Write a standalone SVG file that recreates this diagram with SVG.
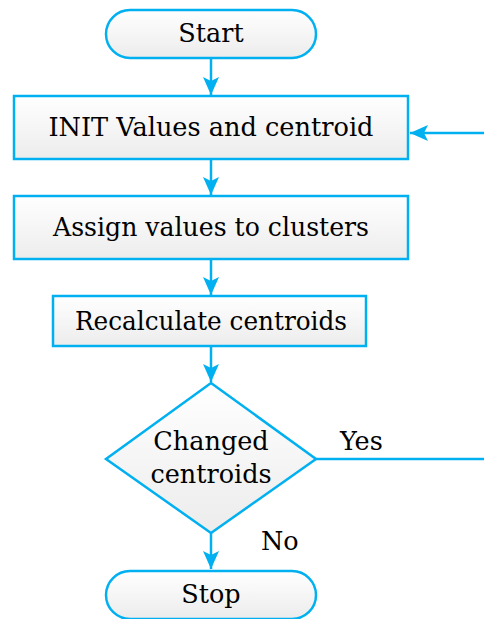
<svg xmlns="http://www.w3.org/2000/svg" width="484" height="619" viewBox="0 0 484 619">
<defs>
<linearGradient id="g" x1="0" y1="0" x2="0" y2="1">
<stop offset="0" stop-color="#ffffff"/>
<stop offset="1" stop-color="#ececec"/>
</linearGradient>
<marker id="ah" viewBox="0 0 18 16" refX="18" refY="8" markerWidth="18" markerHeight="16" markerUnits="userSpaceOnUse" orient="auto">
<path d="M0,0 L18,8 L0,16 L4,8 Z" fill="#00b0f0"/>
</marker>
<style>
.shape{fill:url(#g);stroke:#00b0f0;stroke-width:2.5}
.conn{stroke:#00b0f0;stroke-width:2.5;fill:none}
text{font-family:"DejaVu Serif","Liberation Serif",serif;font-size:25.5px;fill:#000}
.c{text-anchor:middle}
</style>
</defs>
<g id="connectors">
<path class="conn" d="M211,58 V95" marker-end="url(#ah)"/>
<path class="conn" d="M211,159 V195" marker-end="url(#ah)"/>
<path class="conn" d="M211,259 V295" marker-end="url(#ah)"/>
<path class="conn" d="M211,346 V382" marker-end="url(#ah)"/>
<path class="conn" d="M211,533 V569" marker-end="url(#ah)"/>
<path class="conn" d="M316,459 H484"/>
<path class="conn" d="M484,133 H410" marker-end="url(#ah)"/>
<text x="340" y="450">Yes</text>
<text x="261" y="550">No</text>
</g>
<g id="start">
<rect class="shape" x="106" y="10" width="210" height="48" rx="24"/>
<text class="c" x="211" y="42">Start</text>
</g>
<g id="init">
<rect class="shape" x="14" y="96" width="394" height="63"/>
<text class="c" x="211" y="136" textLength="325" lengthAdjust="spacingAndGlyphs">INIT Values and centroid</text>
</g>
<g id="assign">
<rect class="shape" x="14" y="196" width="394" height="63"/>
<text class="c" x="211" y="236" textLength="316" lengthAdjust="spacingAndGlyphs">Assign values to clusters</text>
</g>
<g id="recalc">
<rect class="shape" x="53" y="296" width="313" height="50"/>
<text class="c" x="211" y="330" textLength="272" lengthAdjust="spacingAndGlyphs">Recalculate centroids</text>
</g>
<g id="decision">
<polygon class="shape" points="211,383 316,459 211,533 106,459"/>
<text class="c" x="211" y="450">Changed</text>
<text class="c" x="211" y="483">centroids</text>
</g>
<g id="stop">
<rect class="shape" x="106" y="571" width="210" height="48" rx="24"/>
<text class="c" x="211" y="603">Stop</text>
</g>
</svg>
